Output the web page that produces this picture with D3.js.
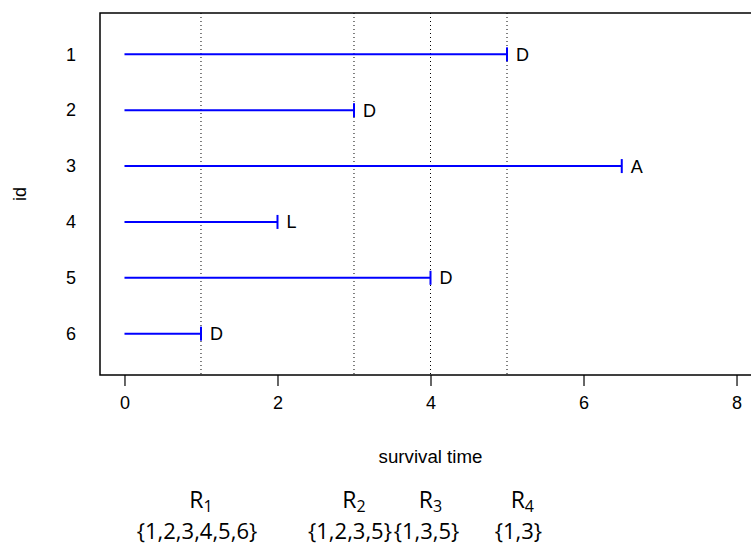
<!DOCTYPE html>
<html>
  <head>
    <meta charset="UTF-8">
    <style>
      html, body { margin: 0; padding: 0; background: #fff; }
      svg { display: block; }
    </style>
    <script src="https://d3js.org/d3.v7.min.js"></script>
  </head>
  <body>
    <div id="viz"></div>
    <script>
      // subjects, follow-up times and how each one ended
      const ids = [1, 2, 3, 4, 5, 6]
      const times = [5, 3, 6.5, 2, 4, 1]
      const status = ["D", "D", "A", "L", "D", "D"]

      // distinct death times and the risk sets at each
      const eventTimes = [1, 3, 4, 5]
      const riskNames = ["1", "2", "3", "4"]
      const riskSets = ["{1,2,3,4,5,6}", "{1,2,3,5}", "{1,3,5}", "{1,3}"]
      const riskLabelAt = [1, 3, 4, 5.2]

      const xTicks = [0, 2, 4, 6, 8]

      const width = 751, height = 546
      const box = {left: 100, top: 13, right: 761, bottom: 375}
      const axisFont = "Liberation Sans, Arial, Helvetica, sans-serif"
      const fs = 18

      const x = d3.scaleLinear().domain([-0.32, 8.32]).range([box.left, box.right])
      const y = d3.scaleLinear().domain([0.26, 6.74]).range([box.top, box.bottom])

      const svg = d3.select("#viz").append("svg")
          .attr("width", width)
          .attr("height", height)
          .attr("font-family", axisFont)

      // dotted lines at the event times
      svg.append("g").selectAll("line")
        .data(eventTimes)
        .join("line")
          .attr("x1", d => x(d)).attr("x2", d => x(d))
          .attr("y1", box.top).attr("y2", box.bottom)
          .attr("stroke", "#000")
          .attr("stroke-width", 1)
          .attr("stroke-dasharray", "1,3")

      // follow-up segments
      const rows = ids.map((id, i) => ({id, t: times[i], s: status[i]}))
      const seg = svg.append("g").selectAll("g")
        .data(rows)
        .join("g")

      seg.append("line")
          .attr("x1", x(0)).attr("x2", d => x(d.t))
          .attr("y1", d => y(d.id)).attr("y2", d => y(d.id))
          .attr("stroke", "#0000ff")
          .attr("stroke-width", 2)

      seg.append("line")
          .attr("x1", d => x(d.t)).attr("x2", d => x(d.t))
          .attr("y1", d => y(d.id) - 7).attr("y2", d => y(d.id) + 7)
          .attr("stroke", "#0000ff")
          .attr("stroke-width", 2)

      seg.append("text")
          .attr("x", d => x(d.t) + 9)
          .attr("y", d => y(d.id))
          .attr("dy", "0.36em")
          .attr("font-size", fs)
          .text(d => d.s)

      // plot frame
      svg.append("rect")
          .attr("x", box.left).attr("y", box.top)
          .attr("width", box.right - box.left)
          .attr("height", box.bottom - box.top)
          .attr("fill", "none")
          .attr("stroke", "#000")
          .attr("stroke-width", 1.5)

      // x axis
      const xAxis = svg.append("g")
          .attr("transform", `translate(0,${box.bottom})`)
          .call(d3.axisBottom(x).tickValues(xTicks).tickSize(11).tickPadding(10).tickFormat(d3.format("d")))
      xAxis.select(".domain").remove()
      xAxis.selectAll("line").attr("stroke-width", 1.2)
      xAxis.selectAll("text").attr("font-size", fs).attr("font-family", axisFont)

      // y axis, labels only
      const yAxis = svg.append("g")
          .attr("transform", `translate(${box.left},0)`)
          .call(d3.axisLeft(y).tickValues(ids).tickSize(0).tickPadding(24).tickFormat(d3.format("d")))
      yAxis.select(".domain").remove()
      yAxis.selectAll("text").attr("font-size", fs).attr("font-family", axisFont)

      svg.append("text")
          .attr("x", (box.left + box.right) / 2)
          .attr("y", 463)
          .attr("text-anchor", "middle")
          .attr("font-size", 18.7)
          .text("survival time")

      svg.append("text")
          .attr("transform", `translate(26,${(box.top + box.bottom) / 2}) rotate(-90)`)
          .attr("text-anchor", "middle")
          .attr("font-size", fs)
          .text("id")

      // risk set annotations below the axis
      const risk = svg.append("g")
          .attr("font-family", "Open Sans, Noto Sans, sans-serif")
          .attr("text-anchor", "middle")
        .selectAll("g")
        .data(riskNames.map((n, i) => ({n, set: riskSets[i], at: riskLabelAt[i]})))
        .join("g")
          .attr("transform", d => `translate(${x(d.at)},0)`)

      const rLabel = risk.append("text")
          .attr("y", 508)
          .attr("font-size", 23)
      rLabel.append("tspan").text("R")
      rLabel.append("tspan")
          .attr("font-size", 16)
          .attr("dy", 3.5)
          .text(d => d.n)

      risk.append("text")
          .attr("x", -4)
          .attr("y", 539)
          .attr("font-size", 22)
          .text(d => d.set)
    </script>
  </body>
</html>
